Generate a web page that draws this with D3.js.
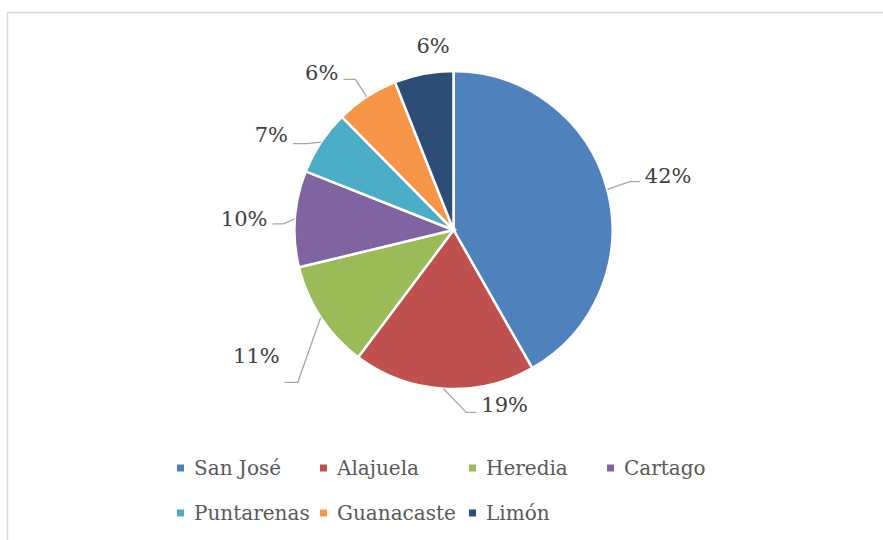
<!DOCTYPE html>
<html>
<head>
<meta charset="utf-8">
<script src="https://cdn.jsdelivr.net/npm/d3@7"></script>
<style>
  html, body { margin: 0; padding: 0; background: #ffffff; }
  svg { display: block; }
</style>
</head>
<body>
<svg id="chart" width="883" height="540"></svg>
<script>
// ---- data ----
const categories = ["San José", "Alajuela", "Heredia", "Cartago", "Puntarenas", "Guanacaste", "Limón"];
const values = [41.8, 18.5, 11.0, 9.8, 6.6, 6.4, 6.0];
const labels = ["42%", "19%", "11%", "10%", "7%", "6%", "6%"];
const colors = ["#4F81BD", "#C0504D", "#9BBB59", "#8064A2", "#4BACC6", "#F79646", "#2C4D75"];

// ---- layout (label placement, mimicking Excel best-fit) ----
// [elbow radius factor, angular nudge (deg), horizontal leg length, text dy from leg, show leader]
const labelLayout = [
  [1.15, -0.5, 10, 1, true],
  [1.15, -7.6, 10, 0, true],
  [1.37, -11, 13, -19, true],
  [1.07, -2, 11, 2, true],
  [1.07, -3, 14, -2, true],
  [1.13, 0, 12, 1, true],
  [1.17, 4.5, 0, 8, false]
];
const legendCols = [177, 320, 469, 607];
const legendRows = [468, 513];

const svg = d3.select("#chart");
const W = 883, H = 540;

// chart border (only top & left visible in the crop)
svg.append("rect")
  .attr("x", 7.5).attr("y", 12.5)
  .attr("width", W + 20).attr("height", H + 20)
  .attr("fill", "#ffffff")
  .attr("stroke", "#D9D9D9")
  .attr("stroke-width", 1.5);

const cx = 453.5, cy = 230, R = 159;
const g = svg.append("g").attr("transform", `translate(${cx},${cy})`);

const pie = d3.pie().sort(null).value(d => d);
const arcs = pie(values);
const arc = d3.arc().innerRadius(0).outerRadius(R);

g.selectAll("path.slice")
  .data(arcs)
  .enter().append("path")
  .attr("class", "slice")
  .attr("d", arc)
  .attr("fill", (d, i) => colors[i])
  .attr("stroke", "#ffffff")
  .attr("stroke-width", 2.5)
  .attr("stroke-linejoin", "miter");

// labels & leader lines
const pt = (ang, r) => [Math.sin(ang) * r, -Math.cos(ang) * r];
arcs.forEach((d, i) => {
  const [kf, nudge, leg, tdy, showLine] = labelLayout[i];
  const mid = (d.startAngle + d.endAngle) / 2;
  const start = pt(mid, R);
  const elbowAng = mid + nudge * Math.PI / 180;
  const elbow = pt(elbowAng, R * kf);
  const right = Math.sin(elbowAng) >= 0;
  const dir = right ? 1 : -1;
  const end = [elbow[0] + dir * leg, elbow[1]];
  if (showLine) {
    g.append("polyline")
      .attr("points", [start, elbow, end].map(p => p.join(",")).join(" "))
      .attr("fill", "none")
      .attr("stroke", "#A6A6A6")
      .attr("stroke-width", 1.3);
    g.append("text")
      .attr("x", end[0] + dir * 5)
      .attr("y", end[1] + tdy)
      .attr("text-anchor", right ? "start" : "end")
      .attr("font-family", "'DejaVu Serif', serif")
      .attr("font-size", 21)
      .attr("fill", "#404040")
      .text(labels[i]);
  } else {
    g.append("text")
      .attr("x", elbow[0])
      .attr("y", elbow[1] + tdy)
      .attr("text-anchor", "middle")
      .attr("font-family", "'DejaVu Serif', serif")
      .attr("font-size", 21)
      .attr("fill", "#404040")
      .text(labels[i]);
  }
});

// legend
const legend = svg.append("g");
categories.forEach((c, i) => {
  const col = i < 4 ? i : i - 4;
  const row = i < 4 ? 0 : 1;
  const x = legendCols[col], y = legendRows[row];
  legend.append("rect")
    .attr("x", x).attr("y", y - 3.5)
    .attr("width", 7).attr("height", 7)
    .attr("fill", colors[i]);
  legend.append("text")
    .attr("x", x + 17).attr("y", y)
    .attr("dy", "0.35em")
    .attr("font-family", "'DejaVu Serif', serif")
    .attr("font-size", 20)
    .attr("fill", "#595959")
    .text(c);
});
</script>
</body>
</html>
